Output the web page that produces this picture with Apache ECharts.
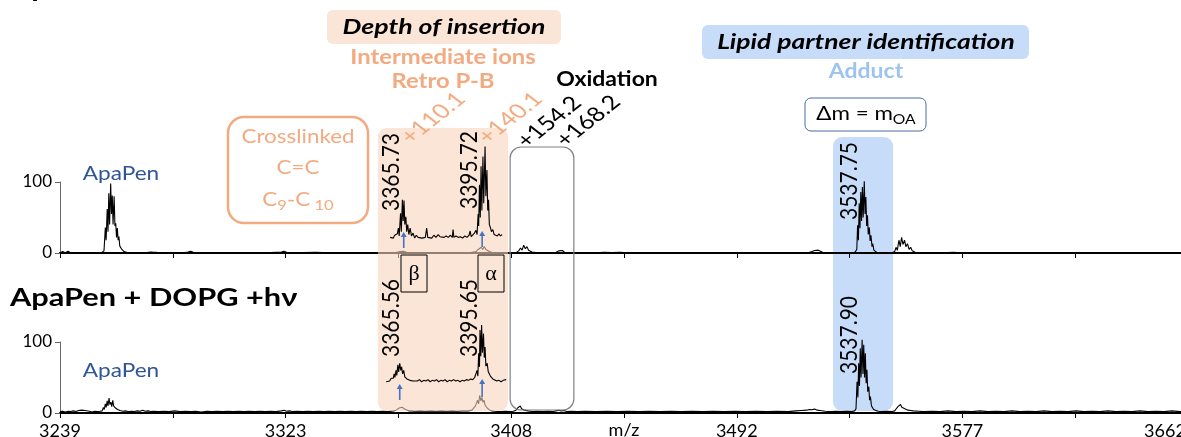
<!DOCTYPE html>
<html><head><meta charset="utf-8">
<script src="https://cdn.jsdelivr.net/npm/echarts@6/dist/echarts.min.js"></script>
<style>html,body{margin:0;padding:0;background:#fff}#c{width:1181px;height:437px}</style>
</head><body><div id="c"></div>
<script>
// ---------- data ----------
const tickValues = [3239, 3281.3, 3323.6, 3365.9, 3408.2, 3450.5, 3492.8, 3535.1, 3577.4, 3619.7, 3662];
const labelValues = [3239, 3323.6, 3408.2, 3492.8, 3577.4, 3662];
const tickLabels = ['3239', '3323', '3408', '3492', '3577', '3662'];
const yTickLabels = ['0', '100'];

// top panel: ApaPen + DOPG (no irradiation)
const topSpectrum = [
[3239,0.5],[3240,2],[3241,0.5],[3242,2.5],[3243,0.5],[3246,0.8],[3250,0.3],[3253,0.6],
[3254.5,0.5],[3255.5,3],[3256.0,36],[3256.3,18],[3256.7,62],[3257.0,30],[3257.3,84],[3257.6,40],[3258.0,98],[3258.3,55],[3258.6,81],[3258.9,40],[3259.3,80],[3259.6,38],[3259.9,42],[3260.2,22],[3260.5,35],[3260.8,18],[3261.1,23],[3261.4,10],[3261.8,12],[3262.2,5],[3262.6,6],[3263.0,2],[3263.6,1],[3264.5,0.3],
[3268,0.5],[3271,0.3],[3273,1.5],[3273.5,3],[3274,1],[3274.5,3.5],[3275,1],[3276,0.3],[3280,0.5],[3285,0.3],[3287,1.5],[3288,2.5],[3289,1],[3290,0.3],[3295,0.6],[3300,0.3],[3305,0.5],[3309,0.8],[3312,0.3],[3318,0.5],[3322,1.5],[3323,2.5],[3324,1],[3326,0.3],[3330,0.5],[3335,1],[3340,0.3],[3345,0.5],[3350,0.3],[3355,0.5],[3360,0.3],
[3365,0.5],[3366.5,2],[3367.2,4],[3367.8,2.5],[3368.4,4],[3369,1],[3371,0.4],[3375,0.6],[3380,0.4],[3385,0.6],[3390,0.4],[3393,0.6],[3395,2],[3395.8,5],[3396.4,3],[3397,8],[3397.5,5],[3398.1,9],[3398.7,5],[3399.3,6],[3400,2],[3401,1],[3403,0.4],[3407,0.5],
[3410,0.5],[3411,3],[3411.7,7],[3412.3,4],[3412.9,11],[3413.5,6],[3414.1,9],[3414.7,4],[3415.3,5],[3416,1.5],[3417.5,0.5],[3422,0.4],[3425,1],[3426,3],[3426.7,2],[3427.4,3.5],[3428.2,1],[3430,0.4],
[3435,0.5],[3440,0.3],[3443,1],[3446,0.5],[3449,1],[3452,0.3],[3460,0.4],[3470,0.3],[3480,0.5],[3490,0.3],[3500,0.5],[3510,0.3],[3517,0.5],
[3520,1],[3521,2],[3522,3.5],[3522.6,2],[3523.3,4],[3524,2],[3525,1],[3526,0.3],[3533,0.3],
[3537,0.5],[3537.8,5],[3538.1,39],[3538.4,18],[3538.7,70],[3539,35],[3539.3,86],[3539.6,45],[3539.9,93],[3540.2,50],[3540.6,101],[3540.9,55],[3541.2,79],[3541.5,38],[3541.8,53],[3542.1,26],[3542.5,36],[3542.8,17],[3543.1,25],[3543.5,9],[3543.8,13],[3544.2,4],[3544.7,6],[3545.2,1],[3546,0.3],
[3551,0.3],[3552,2],[3552.5,8],[3553,4],[3553.6,18],[3554.1,9],[3554.6,22],[3555.1,12],[3555.7,18],[3556.2,9],[3556.8,13],[3557.4,5],[3558,8],[3558.6,3],[3559.3,3],[3560,0.5],
[3565,0.4],[3570,0.3],[3574,1],[3577,0.3],[3585,0.5],[3590,0.3],[3598,0.8],[3605,0.3],[3610,0.6],[3620,0.3],[3630,0.5],[3640,0.3],[3650,0.5],[3662,0.3]
];

// top panel: magnified trace of the intermediate-ion region
const topInset = [
[3362.8,22],[3363.5,24],[3364,21],[3364.5,25],[3365,23],[3365.5,27],[3365.9,35],[3366.2,24],[3366.7,56],[3367.0,30],[3367.4,75],[3367.7,45],[3368.0,74],[3368.3,40],[3368.7,51],[3369.0,30],[3369.4,40],[3369.8,26],[3370.3,35],[3370.8,24],[3371.4,28],[3372,21],[3372.6,25],[3373.3,22],[3374,24],[3374.7,21],[3375.4,23],[3376,22],[3376.5,35],[3376.9,22],[3377.6,24],[3378.4,21],[3379.2,25],[3380,22],[3380.8,26],[3381.5,23],[3382.2,25],[3383,22],[3383.8,24],[3384.6,22],[3385.4,25],[3386.1,22],[3386.4,33],[3386.7,22],[3387.5,24],[3388.3,22],[3389.1,23],[3390,21],[3390.8,24],[3391.6,22],[3392.4,25],[3392.8,31],[3393.2,23],[3393.8,25],[3394.4,28],[3395.0,32],[3395.4,26],[3395.8,55],[3396.0,38],[3396.3,96],[3396.6,50],[3396.9,122],[3397.2,60],[3397.6,136],[3397.9,70],[3398.4,150],[3398.7,80],[3399.1,117],[3399.4,60],[3399.7,75],[3400.0,40],[3400.3,37],[3400.8,30],[3401.3,33],[3401.8,26],[3402.4,28],[3403,24],[3403.6,27],[3404.2,24],[3404.8,26]
];

// bottom panel: ApaPen + DOPG + hv
const bottomSpectrum = [
[3239,2],[3240,2.5],[3241,1.5],[3242,2.5],[3243,2],[3244,3],[3245,2],[3246,3.5],[3246.6,2.5],[3247.2,4],[3247.8,2.5],[3248.4,3.5],[3249,2],[3250,2.5],[3251,1.5],[3252,2.5],[3253,2],[3254,2.5],
[3254.8,3],[3255.3,8],[3255.6,5],[3256,13],[3256.3,8],[3256.7,17],[3257,10],[3257.4,21],[3257.7,12],[3258.1,15],[3258.4,9],[3258.8,18],[3259.1,10],[3259.5,12],[3259.8,7],[3260.2,9],[3260.6,5],[3261,6],[3261.5,3.5],[3262,4],[3262.6,2.5],[3263.5,3],[3264.5,2],
[3266,2.5],[3267,2],[3268,3],[3269,2.5],[3270,4],[3271,2.5],[3272,3],[3273,2],[3274,2.5],[3276,2],[3278,2.5],[3280,2],[3282,3],[3284,2],[3286,2.5],[3288,2],[3290,2.5],[3292,1.5],[3294,2.5],[3296,2],[3298,2.5],[3300,2],[3302,2.5],[3304,2],[3306,2.5],[3308,2],[3310,2.5],[3312,2],[3314,2.5],[3316,2],[3318,2.5],[3320,2],[3322,3],[3323,4],[3324,2.5],[3325,3],[3326,2],[3328,2.5],[3330,2],[3332,2.5],[3334,2],[3336,2.5],[3338,2],[3340,2.5],[3342,2],[3344,2.5],[3346,2],[3348,2.5],[3350,2],[3352,2.5],[3354,2],[3356,2.5],[3358,2],[3360,2.5],[3362,2],[3364,3],
[3365,4],[3365.6,5],[3366.2,7],[3366.7,6],[3367.3,8],[3367.9,6],[3368.5,5],[3369.2,4],[3370,3],[3371,3],[3372,2.5],[3374,3],[3376,2.5],[3378,3],[3380,2.5],[3382,3],[3384,2.5],[3386,3],[3388,2.5],[3390,3],[3392,3],[3393.5,4],
[3394.2,6],[3394.8,10],[3395.2,8],[3395.6,18],[3396,13],[3396.4,25],[3396.8,17],[3397.2,22],[3397.6,15],[3398,18],[3398.4,11],[3398.8,12],[3399.2,7],[3399.7,8],[3400.2,4],[3401,3],[3402,2.5],[3404,2],[3406,2.5],[3408,2],
[3409,2.5],[3410,4],[3410.6,7],[3411.1,5],[3411.6,10],[3412.1,6],[3412.6,8],[3413.1,4],[3413.7,5],[3414.5,3],[3416,2],[3418,2.5],[3420,2],[3422,2.5],[3424,2],[3425,3],[3426,4],[3427,3],[3428,3.5],[3429,2],[3431,2.5],[3433,2],
[3436,2.5],[3440,2],[3444,2.5],[3448,2],[3452,2.5],[3456,2],[3460,2.5],[3464,2],[3468,2.5],[3472,2],[3476,2.5],[3480,2],[3484,2.5],[3488,2],[3492,2.5],[3496,2],[3500,2.5],[3504,2],[3508,2.5],[3512,2],[3515,3],[3517,3.5],[3519,4],[3520,5],[3521,4.5],[3522,5.5],[3523,4],[3524,3.5],[3526,2.5],[3528,2],[3530,2.5],[3532,2],[3534,2.5],[3536,2],
[3537,3],[3537.5,6],[3537.9,44],[3538.2,22],[3538.5,70],[3538.8,38],[3539.1,91],[3539.4,50],[3539.8,103],[3540.1,55],[3540.4,96],[3540.7,50],[3541,84],[3541.3,42],[3541.6,61],[3541.9,30],[3542.3,37],[3542.6,18],[3542.9,23],[3543.3,10],[3543.6,11],[3544.1,5],[3544.6,7],[3545.2,3],[3546,2.5],[3547,2],[3549,2.5],[3551,2],
[3552,3],[3552.6,6],[3553.2,9],[3553.7,7],[3554.2,12],[3554.7,8],[3555.2,10],[3555.8,6],[3556.4,7],[3557,4],[3558,3.5],[3559,3],[3561,2.5],[3563,2],
[3566,2.5],[3569,2],[3572,3],[3575,2],[3578,2.5],[3581,2],[3584,3],[3587,2],[3590,2.5],[3593,2],[3596,3],[3599,2],[3602,2.5],[3605,2],[3608,3],[3611,2],[3614,2.5],[3617,2],[3620,3],[3623,2],[3626,2.5],[3629,2],[3632,3],[3635,2],[3638,2.5],[3641,2],[3644,3],[3647,2],[3650,2.5],[3653,2],[3656,3],[3659,2],[3662,2.5]
];

// bottom panel: magnified trace of the intermediate-ion region
const bottomInset = [
[3361.3,44],[3362,46],[3362.6,45],[3363.2,49],[3363.6,47],[3364.0,49],[3364.3,55],[3364.6,50],[3365.0,60],[3365.3,53],[3365.7,68],[3366.0,58],[3366.4,70],[3366.8,60],[3367.1,65],[3367.5,55],[3367.9,60],[3368.3,51],[3368.7,53],[3369.1,48],[3369.6,49],[3370.2,46],[3370.8,48],[3371.5,45],[3372.2,47],[3373,45],[3373.8,47],[3374.6,44],[3375.4,46],[3376.2,45],[3377,47],[3377.8,44],[3378.6,46],[3379.4,45],[3380.2,47],[3381,44],[3381.8,46],[3382.6,45],[3383.4,47],[3384.2,44],[3385,46],[3385.8,45],[3386.6,47],[3387.4,45],[3388.2,46],[3389,44],[3389.8,46],[3390.6,45],[3391.4,47],[3392.2,46],[3393,48],[3393.8,47],[3394.5,50],[3395.0,49],
[3395.4,60],[3395.7,52],[3396.0,84],[3396.3,65],[3396.5,117],[3396.8,80],[3397.1,124],[3397.4,85],[3397.8,112],[3398.1,78],[3398.4,93],[3398.7,66],[3399.2,70],[3399.6,58],[3400.0,58],[3400.4,52],[3400.8,51],[3401.3,48],[3402,47],[3402.8,45],[3403.6,46],[3404.4,44],[3405.2,46],[3405.8,48],[3406.3,47]
];

// highlighted m/z ranges
const salmonRange = [3358.2, 3407.0];
const oxidationRange = [3407.8, 3431.7];
const adductRange = [3528.9, 3551.4];
const axisTitle = 'm/z';

// ---------- chart ----------
const FONT = 'Lato, "Noto Sans", sans-serif';
const SALMON = '#F4AA80';
const chart = echarts.init(document.getElementById('c'), null, {renderer: 'canvas'});

function xAx(grid, withLabels) {
  return {
    type: 'value', gridIndex: grid, min: 3239, max: 3662,
    axisLine: {show: true, onZero: true, lineStyle: {color: '#000', width: 2}},
    axisTick: {show: true, customValues: tickValues, length: 5, lineStyle: {color: '#000', width: 1}},
    axisLabel: withLabels ? {
      show: true, customValues: labelValues, margin: 9, color: '#000', fontSize: 18, fontFamily: FONT,
      formatter: v => {
        let i = 0, best = 1e9;
        labelValues.forEach((l, k) => { if (Math.abs(l - v) < best) { best = Math.abs(l - v); i = k; } });
        return i === tickLabels.length - 1 ? '{last|' + tickLabels[i] + '}' : tickLabels[i];
      },
      rich: {last: {fontSize: 18, fontFamily: FONT, color: '#000', padding: [0, 46, 0, 0]}}
    } : {show: false},
    splitLine: {show: false}
  };
}
function yAx(grid) {
  return {
    type: 'value', gridIndex: grid, min: 0, max: 100, interval: 100,
    axisLine: {show: true, lineStyle: {color: '#666', width: 1}},
    axisTick: {show: true, length: 5, lineStyle: {color: '#666'}},
    axisLabel: {color: '#000', fontSize: 17, fontFamily: FONT, margin: 8,
      formatter: v => yTickLabels[v === 0 ? 0 : 1]},
    splitLine: {show: false}
  };
}
function lineSeries(data, xi, z) {
  return {type: 'line', xAxisIndex: xi, yAxisIndex: xi, data, showSymbol: false, symbol: 'none',
    clip: false, z, silent: true,
    lineStyle: {color: '#000', width: 1.1}};
}

chart.setOption({
  animation: false,
  backgroundColor: '#fff',
  grid: [
    {left: 60, right: -7, top: 182, height: 71, outerBoundsMode: 'none', containLabel: false},
    {left: 60, right: -7, top: 342, height: 71, outerBoundsMode: 'none', containLabel: false}
  ],
  xAxis: [xAx(0, false), xAx(1, true)],
  yAxis: [yAx(0), yAx(1)],
  series: [
    lineSeries(topSpectrum, 0, 2),
    lineSeries(bottomSpectrum, 1, 2),
    lineSeries(topInset, 0, 5),
    lineSeries(bottomInset, 1, 5)
  ]
});

const X = v => chart.convertToPixel({xAxisIndex: 0}, v);
const YB = v => chart.convertToPixel({yAxisIndex: 1}, v);

// text inside a group so it can be stretched horizontally like the original figure
function txt(x, y, text, font, fill, o) {
  o = o || {};
  const style = {text, font, fill, align: o.align || 'center', verticalAlign: o.va || 'middle'};
  if (o.rich) style.rich = o.rich;
  return {type: 'group', x, y, scaleX: o.sx || 1, z: 20,
    children: [{type: 'text', x: 0, y: 0, rotation: o.rot || 0, z: 20, style}]};
}
function rect(x, y, w, h, r, style, z) {
  return {type: 'rect', z: z, shape: {x, y, width: w, height: h, r}, style};
}
function arrow(x, y0, y1) {
  return [
    {type: 'line', z: 21, shape: {x1: x, y1: y0, x2: x, y2: y1 + 4}, style: {stroke: '#4472C4', lineWidth: 1.6}},
    {type: 'polygon', z: 21, shape: {points: [[x - 3, y1 + 5], [x + 3, y1 + 5], [x, y1]]}, style: {fill: '#4472C4'}}
  ];
}
const R90 = Math.PI / 2, R45 = Math.PI / 4;
const sx0 = X(salmonRange[0]), sx1 = X(salmonRange[1]);
const ox0 = X(oxidationRange[0]), ox1 = X(oxidationRange[1]);
const ax0 = X(adductRange[0]), ax1 = X(adductRange[1]);
const subRich = (col, n, s, pad) => ({
  n: {fontSize: n, fontFamily: FONT, color: col, lineHeight: 26},
  s: {fontSize: s, fontFamily: FONT, color: col, lineHeight: 26, padding: [pad, 0, 0, 0]}
});

const g = [
  // cropped title of the upper spectrum
  txt(10, 1, 'ApaPen + DOPG \u2013h\u03BD', 'bold 25px ' + FONT, '#000', {align: 'left', va: 'bottom', sx: 1.23}),
  // header labels
  rect(327, 10, 234, 34, 6, {fill: '#FBE5D6'}, 1),
  txt(444, 27, 'Depth of insertion', 'bold italic 21px ' + FONT, '#000', {sx: 1.27}),
  txt(443, 58, 'Intermediate ions', 'bold 20px ' + FONT, SALMON, {sx: 1.19}),
  txt(443, 82, 'Retro P-B', 'bold 20px ' + FONT, SALMON, {sx: 1.19}),
  txt(607, 80, 'Oxidation', 'bold 20px ' + FONT, '#000', {sx: 1.15}),
  rect(702, 25, 327, 34, 6, {fill: '#C6DCF8'}, 1),
  txt(866, 42, 'Lipid partner identification', 'bold italic 21px ' + FONT, '#000', {sx: 1.26}),
  txt(866, 72, 'Adduct', 'bold 20px ' + FONT, '#9DC3F0', {sx: 1.15}),
  rect(805, 98, 121, 33, 6, {fill: '#fff', stroke: '#4A6BAA', lineWidth: 1}, 1),
  txt(866, 114, '{n|\u0394m = m}{s|OA}', '20px ' + FONT, '#000', {sx: 1.12, rich: subRich('#000', 20, 14, 10)}),
  // diagonal mass-shift labels
  txt(433, 118, '+110.1', '20px ' + FONT, SALMON, {rot: R45, sx: 1.27}),
  txt(510, 118, '+140.1', '20px ' + FONT, SALMON, {rot: R45, sx: 1.27}),
  txt(549, 122, '+154.2', '20px ' + FONT, '#000', {rot: R45, sx: 1.27}),
  txt(588, 121, '+168.2', '20px ' + FONT, '#000', {rot: R45, sx: 1.27}),
  // crosslinked box
  rect(228, 117, 140, 106, 16, {fill: '#fff', stroke: SALMON, lineWidth: 2.5}, 1),
  txt(298, 137, 'Crosslinked', '19px ' + FONT, SALMON, {sx: 1.18}),
  txt(298, 168, 'C=C', '19px ' + FONT, SALMON, {sx: 1.18}),
  txt(298, 200, '{n|C}{s|9}{n|-C}{s| 10}', '19px ' + FONT, SALMON, {sx: 1.18, rich: subRich(SALMON, 19, 14, 10)}),
  // region boxes
  rect(sx0, 128, sx1 - sx0, 283, 9, {fill: 'rgba(248,212,187,0.6)'}, 3),
  rect(ox0, 147, ox1 - ox0, 263, 11, {fill: 'none', stroke: '#808080', lineWidth: 1.2}, 3),
  rect(ax0, 137, ax1 - ax0, 274, 9, {fill: '#C6DCF8'}, -5),
  // species labels
  txt(121, 174, 'ApaPen', '19px ' + FONT, '#2F5597', {sx: 1.19}),
  txt(121, 371, 'ApaPen', '19px ' + FONT, '#2F5597', {sx: 1.19}),
  txt(391, 172, '3365.73', '21px ' + FONT, '#000', {rot: R90, sx: 1.12}),
  txt(469, 170, '3395.72', '21px ' + FONT, '#000', {rot: R90, sx: 1.12}),
  txt(849, 181, '3537.75', '21px ' + FONT, '#000', {rot: R90, sx: 1.12}),
  txt(391, 318, '3365.56', '21px ' + FONT, '#000', {rot: R90, sx: 1.12}),
  txt(469, 318, '3395.65', '21px ' + FONT, '#000', {rot: R90, sx: 1.12}),
  txt(849, 335, '3537.90', '21px ' + FONT, '#000', {rot: R90, sx: 1.12}),
  // beta / alpha
  rect(401, 255, 26, 37, 0, {fill: 'none', stroke: '#000', lineWidth: 1}, 20),
  txt(414, 274, '\u03B2', '22px "Liberation Serif", serif', '#000'),
  rect(478, 255, 26, 37, 0, {fill: 'none', stroke: '#000', lineWidth: 1}, 20),
  txt(491, 274, '\u03B1', '22px "Liberation Serif", serif', '#000'),
  // bottom title
  txt(10, 298, 'ApaPen + DOPG +h\u03BD', 'bold 25px ' + FONT, '#000', {align: 'left', sx: 1.23}),
  // x-axis title, centred on the axis midpoint
  txt(X((3239 + 3662) / 2), YB(0) + 17, axisTitle, '18px ' + FONT, '#000'),
  ...arrow(X(3367.9), 248, 232),
  ...arrow(X(3397.3), 247, 231),
  ...arrow(X(3366.4), 400, 384),
  ...arrow(X(3397.3), 397, 379)
];
chart.setOption({graphic: {elements: g}});
</script>
</body></html>
